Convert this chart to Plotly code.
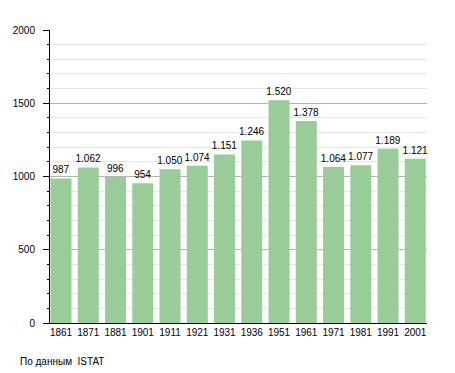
import plotly.graph_objects as go

years = ["1861", "1871", "1881", "1901", "1911", "1921", "1931", "1936",
         "1951", "1961", "1971", "1981", "1991", "2001"]
population = [987, 1062, 996, 954, 1050, 1074, 1151, 1246, 1520, 1378,
              1064, 1077, 1189, 1121]
source_note = "По данным\u00a0\u00a0ISTAT"

font_family = "Liberation Sans, Arial, sans-serif"

fig = go.Figure(
    go.Bar(
        x=list(range(len(years))),
        y=population,
        width=0.77,
        marker=dict(color="#99cc99", line=dict(width=0)),
        texttemplate="%{y:,}",
        textposition="outside",
        constraintext="none",
        textfont=dict(family=font_family, size=10, color="#000"),
        cliponaxis=False,
        hoverinfo="skip",
    )
)

# the page body adds an 8px offset, so the figure is 8px smaller and margins shifted
fig.update_layout(
    width=447,
    height=365,
    margin=dict(l=42, r=28, t=22, b=50, autoexpand=False),
    paper_bgcolor="white",
    plot_bgcolor="white",
    separators=",.",
    showlegend=False,
    font=dict(family=font_family, size=10, color="#000"),
    xaxis=dict(
        tickmode="array",
        tickvals=list(range(len(years))),
        ticktext=years,
        range=[-0.404, 13.43],
        showgrid=False,
        showline=True,
        linecolor="#000",
        linewidth=1,
        ticks="",
        zeroline=False,
        tickfont=dict(size=10),
    ),
    yaxis=dict(
        range=[0, 2000],
        dtick=500,
        tick0=0,
        showgrid=True,
        gridcolor="#b4b4b4",
        gridwidth=1,
        showline=True,
        linecolor="#000",
        linewidth=1,
        ticks="outside",
        ticklen=6,
        tickcolor="#000",
        ticklabelstandoff=6,
        zeroline=False,
        tickformat="d",
        tickfont=dict(size=10),
        minor=dict(
            dtick=100,
            tick0=0,
            showgrid=True,
            gridcolor="#e6e6e6",
            gridwidth=1,
            ticks="outside",
            ticklen=2,
            tickcolor="#000",
        ),
    ),
    annotations=[
        dict(
            text=source_note,
            xref="paper",
            yref="paper",
            x=-0.085,
            y=-0.133,
            xanchor="left",
            yanchor="middle",
            showarrow=False,
            font=dict(size=10, color="#000"),
        )
    ],
)

fig.write_html("out.html")
